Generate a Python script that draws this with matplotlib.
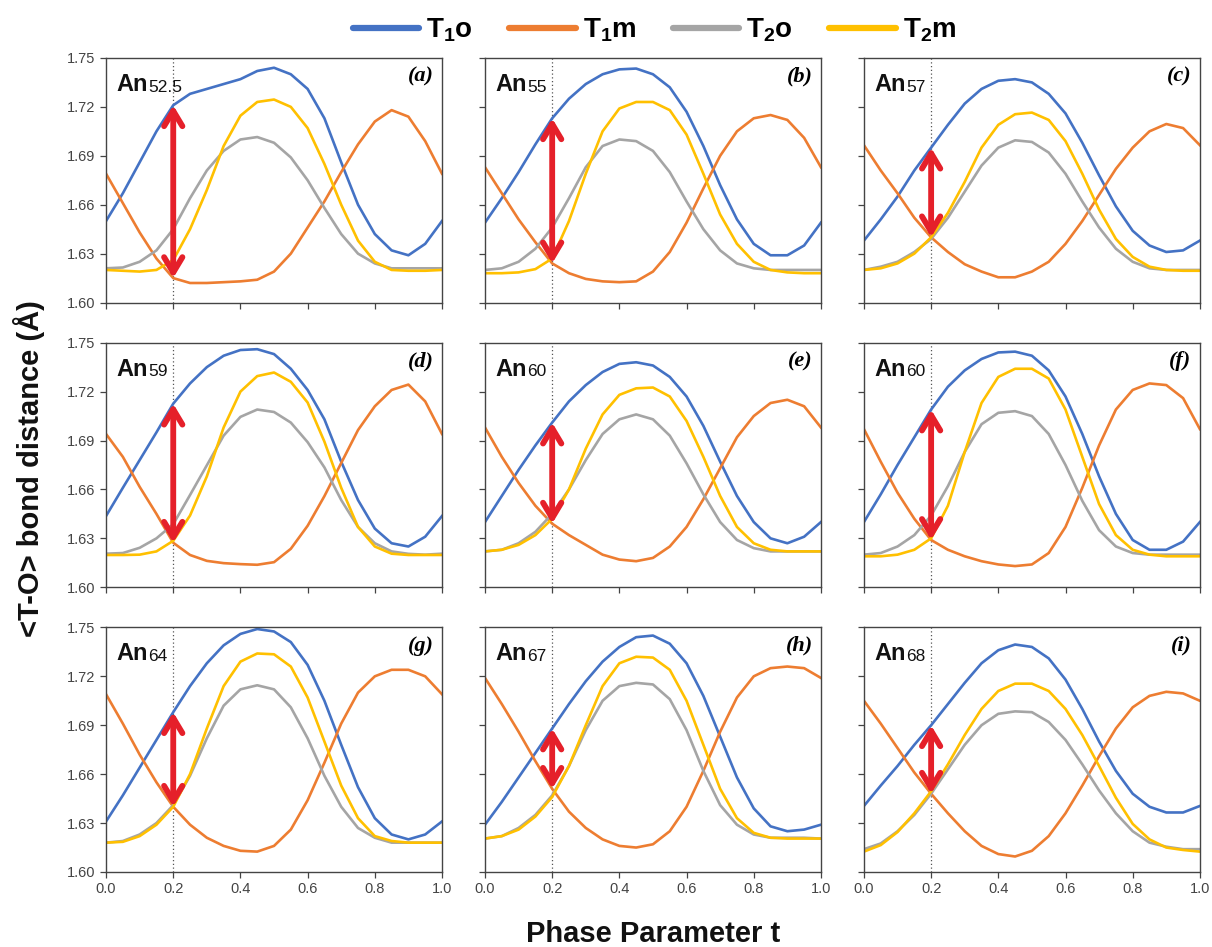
import numpy as np
import matplotlib
matplotlib.use('Agg')
import matplotlib.pyplot as plt
from matplotlib.lines import Line2D

plt.rcParams['font.family'] = ['Liberation Sans', 'DejaVu Sans']
plt.rcParams['mathtext.fontset'] = 'custom'
plt.rcParams['mathtext.rm'] = 'Liberation Sans'
plt.rcParams['mathtext.bf'] = 'Liberation Sans:bold'

# phase parameter t
t = np.round(np.arange(0, 1.0001, 0.05), 2)

series_names = ['T$_\\mathbf{1}$o', 'T$_\\mathbf{1}$m', 'T$_\\mathbf{2}$o', 'T$_\\mathbf{2}$m']
series_colors = ['#4472C4', '#ED7D31', '#A5A5A5', '#FFC000']

panel_letters = ['a', 'b', 'c', 'd', 'e', 'f', 'g', 'h', 'i']
sample_an = ['52.5', '55', '57', '59', '60', '60', '64', '67', '68']

# <T-O> bond distances, one list per site, per panel
T1o = [
    [1.650, 1.667, 1.686, 1.705, 1.721, 1.728, 1.731, 1.734, 1.737, 1.742, 1.744, 1.740, 1.731, 1.713, 1.686, 1.660, 1.642, 1.632, 1.629, 1.636, 1.650],
    [1.649, 1.664, 1.680, 1.697, 1.713, 1.725, 1.734, 1.740, 1.743, 1.7435, 1.740, 1.732, 1.717, 1.696, 1.672, 1.651, 1.636, 1.629, 1.629, 1.635, 1.649],
    [1.638, 1.651, 1.665, 1.681, 1.695, 1.709, 1.722, 1.731, 1.736, 1.737, 1.735, 1.728, 1.716, 1.698, 1.678, 1.659, 1.644, 1.635, 1.631, 1.632, 1.638],
    [1.6437, 1.661, 1.678, 1.695, 1.7126, 1.725, 1.735, 1.742, 1.7455, 1.746, 1.743, 1.734, 1.721, 1.703, 1.677, 1.6535, 1.636, 1.627, 1.625, 1.631, 1.6437],
    [1.640, 1.656, 1.672, 1.687, 1.701, 1.714, 1.724, 1.732, 1.737, 1.738, 1.736, 1.729, 1.717, 1.699, 1.677, 1.656, 1.640, 1.630, 1.627, 1.631, 1.640],
    [1.640, 1.657, 1.675, 1.692, 1.709, 1.723, 1.733, 1.740, 1.744, 1.7445, 1.742, 1.733, 1.717, 1.694, 1.668, 1.645, 1.629, 1.623, 1.623, 1.628, 1.640],
    [1.631, 1.647, 1.664, 1.681, 1.698, 1.714, 1.728, 1.739, 1.746, 1.749, 1.7475, 1.741, 1.727, 1.705, 1.678, 1.652, 1.633, 1.623, 1.620, 1.623, 1.631],
    [1.629, 1.643, 1.658, 1.673, 1.688, 1.703, 1.717, 1.729, 1.738, 1.744, 1.745, 1.740, 1.728, 1.708, 1.683, 1.658, 1.639, 1.628, 1.625, 1.626, 1.629],
    [1.6405, 1.653, 1.665, 1.678, 1.690, 1.703, 1.716, 1.728, 1.736, 1.7395, 1.738, 1.731, 1.718, 1.700, 1.680, 1.662, 1.648, 1.640, 1.6365, 1.6365, 1.6405],
]
T1m = [
    [1.679, 1.661, 1.643, 1.627, 1.615, 1.612, 1.612, 1.6125, 1.613, 1.614, 1.619, 1.630, 1.646, 1.662, 1.680, 1.697, 1.711, 1.718, 1.714, 1.699, 1.679],
    [1.683, 1.667, 1.651, 1.637, 1.624, 1.618, 1.6145, 1.613, 1.6125, 1.613, 1.619, 1.631, 1.649, 1.670, 1.690, 1.705, 1.713, 1.715, 1.712, 1.701, 1.683],
    [1.6965, 1.681, 1.667, 1.652, 1.640, 1.631, 1.6235, 1.619, 1.6155, 1.6155, 1.619, 1.625, 1.636, 1.650, 1.666, 1.682, 1.695, 1.705, 1.7095, 1.707, 1.6965],
    [1.694, 1.680, 1.6616, 1.645, 1.6273, 1.6198, 1.6162, 1.6148, 1.6142, 1.6138, 1.6154, 1.6236, 1.6377, 1.6559, 1.6762, 1.6964, 1.711, 1.721, 1.7243, 1.714, 1.694],
    [1.698, 1.680, 1.664, 1.650, 1.639, 1.632, 1.626, 1.620, 1.617, 1.616, 1.618, 1.625, 1.637, 1.654, 1.673, 1.692, 1.705, 1.713, 1.715, 1.711, 1.698],
    [1.697, 1.677, 1.658, 1.642, 1.629, 1.623, 1.619, 1.616, 1.614, 1.613, 1.614, 1.621, 1.637, 1.661, 1.687, 1.709, 1.721, 1.725, 1.724, 1.716, 1.697],
    [1.709, 1.691, 1.672, 1.655, 1.640, 1.629, 1.621, 1.616, 1.613, 1.6125, 1.616, 1.626, 1.644, 1.667, 1.691, 1.710, 1.720, 1.724, 1.724, 1.720, 1.709],
    [1.719, 1.703, 1.686, 1.668, 1.651, 1.637, 1.627, 1.620, 1.616, 1.615, 1.617, 1.625, 1.640, 1.662, 1.686, 1.707, 1.720, 1.725, 1.726, 1.725, 1.719],
    [1.705, 1.691, 1.676, 1.661, 1.648, 1.636, 1.625, 1.616, 1.611, 1.6095, 1.613, 1.622, 1.636, 1.653, 1.671, 1.688, 1.701, 1.708, 1.7105, 1.7095, 1.705],
]
T2o = [
    [1.621, 1.6215, 1.625, 1.632, 1.645, 1.664, 1.681, 1.693, 1.700, 1.7015, 1.698, 1.689, 1.675, 1.658, 1.642, 1.630, 1.624, 1.621, 1.621, 1.621, 1.621],
    [1.620, 1.621, 1.625, 1.633, 1.646, 1.664, 1.683, 1.696, 1.700, 1.699, 1.693, 1.680, 1.662, 1.645, 1.632, 1.624, 1.621, 1.620, 1.620, 1.620, 1.620],
    [1.620, 1.622, 1.625, 1.631, 1.639, 1.652, 1.668, 1.684, 1.695, 1.6995, 1.6985, 1.692, 1.679, 1.662, 1.646, 1.633, 1.625, 1.621, 1.620, 1.620, 1.620],
    [1.6206, 1.621, 1.6242, 1.630, 1.6387, 1.6566, 1.6748, 1.693, 1.7045, 1.709, 1.7075, 1.701, 1.689, 1.6735, 1.6535, 1.637, 1.627, 1.622, 1.6205, 1.620, 1.6206],
    [1.622, 1.623, 1.627, 1.634, 1.645, 1.660, 1.678, 1.694, 1.703, 1.706, 1.703, 1.693, 1.676, 1.657, 1.640, 1.629, 1.624, 1.622, 1.622, 1.622, 1.622],
    [1.620, 1.621, 1.625, 1.632, 1.644, 1.662, 1.683, 1.700, 1.707, 1.708, 1.705, 1.694, 1.675, 1.653, 1.635, 1.625, 1.621, 1.620, 1.620, 1.620, 1.620],
    [1.618, 1.619, 1.623, 1.630, 1.641, 1.659, 1.682, 1.702, 1.712, 1.7145, 1.712, 1.701, 1.682, 1.659, 1.640, 1.627, 1.621, 1.618, 1.618, 1.618, 1.618],
    [1.6205, 1.622, 1.627, 1.635, 1.647, 1.665, 1.687, 1.705, 1.714, 1.716, 1.715, 1.706, 1.687, 1.662, 1.641, 1.629, 1.623, 1.621, 1.621, 1.621, 1.6205],
    [1.614, 1.6175, 1.625, 1.635, 1.648, 1.663, 1.678, 1.690, 1.697, 1.6985, 1.698, 1.692, 1.681, 1.666, 1.650, 1.636, 1.625, 1.618, 1.6155, 1.614, 1.614],
]
T2m = [
    [1.620, 1.6195, 1.619, 1.620, 1.626, 1.645, 1.669, 1.696, 1.7146, 1.723, 1.7245, 1.720, 1.707, 1.685, 1.660, 1.638, 1.625, 1.620, 1.6195, 1.6195, 1.620],
    [1.618, 1.618, 1.6185, 1.6205, 1.627, 1.650, 1.679, 1.705, 1.719, 1.723, 1.723, 1.718, 1.703, 1.679, 1.654, 1.636, 1.625, 1.620, 1.6185, 1.618, 1.618],
    [1.620, 1.621, 1.624, 1.630, 1.640, 1.655, 1.674, 1.695, 1.709, 1.7155, 1.7165, 1.712, 1.699, 1.679, 1.657, 1.639, 1.628, 1.622, 1.620, 1.6195, 1.6195],
    [1.6198, 1.6198, 1.620, 1.622, 1.6285, 1.644, 1.668, 1.698, 1.720, 1.7295, 1.7317, 1.726, 1.7133, 1.6893, 1.661, 1.637, 1.625, 1.6206, 1.6198, 1.6198, 1.6198],
    [1.622, 1.623, 1.626, 1.632, 1.642, 1.660, 1.685, 1.706, 1.718, 1.722, 1.7225, 1.717, 1.702, 1.680, 1.656, 1.637, 1.627, 1.623, 1.622, 1.622, 1.622],
    [1.619, 1.619, 1.620, 1.623, 1.630, 1.650, 1.683, 1.713, 1.729, 1.734, 1.734, 1.728, 1.709, 1.680, 1.651, 1.632, 1.623, 1.620, 1.619, 1.619, 1.619],
    [1.618, 1.6185, 1.622, 1.629, 1.640, 1.660, 1.688, 1.714, 1.729, 1.734, 1.7335, 1.726, 1.707, 1.680, 1.653, 1.633, 1.622, 1.619, 1.618, 1.618, 1.618],
    [1.6205, 1.622, 1.626, 1.634, 1.646, 1.665, 1.690, 1.714, 1.728, 1.732, 1.7315, 1.724, 1.705, 1.678, 1.651, 1.633, 1.624, 1.621, 1.6205, 1.6205, 1.6205],
    [1.6125, 1.6165, 1.6245, 1.636, 1.6495, 1.666, 1.684, 1.700, 1.711, 1.7155, 1.7155, 1.711, 1.700, 1.684, 1.665, 1.6455, 1.6295, 1.620, 1.615, 1.6135, 1.6125],
]

t_mark = 0.2
i_mark = int(np.argmin(np.abs(t - t_mark)))

fig, axes = plt.subplots(3, 3, figsize=(12.12, 9.47), dpi=100, sharex=True, sharey=True)
fig.subplots_adjust(left=0.0875, right=0.990, top=0.9388, bottom=0.0792, wspace=0.128, hspace=0.164)

for k, ax in enumerate(axes.flat):
    ax.axvline(t_mark, color='#555555', lw=0.9, ls=(0, (1, 2)), zorder=1)
    for data, c in zip([T1o, T1m, T2o, T2m], series_colors):
        ax.plot(t, data[k], color=c, lw=1.9, zorder=2, solid_joinstyle='round')
    ax.annotate('', xy=(t_mark, T1o[k][i_mark]), xytext=(t_mark, T1m[k][i_mark]),
                arrowprops=dict(arrowstyle='<->,head_length=0.55,head_width=0.33',
                                color='#E5202A', lw=4.2, shrinkA=0, shrinkB=0,
                                mutation_scale=20),
                zorder=3)
    an = ax.text(0.03, 0.865, 'An', transform=ax.transAxes, fontsize=17,
                 fontweight='bold', color='#111111', va='baseline')
    ax.annotate(sample_an[k], xy=(1, 0), xycoords=an, xytext=(0.5, 1),
                textcoords='offset points', fontsize=12.5, color='#111111',
                va='bottom', ha='left')
    ax.text(0.975, 0.965, '(' + panel_letters[k] + ')', transform=ax.transAxes,
            fontsize=16, fontweight='bold', fontstyle='italic',
            family='Liberation Serif', ha='right', va='top')
    ax.set_xlim(0, 1)
    ax.set_ylim(1.60, 1.75)
    ax.set_xticks(np.arange(0, 1.01, 0.2))
    ax.set_yticks([1.60, 1.63, 1.66, 1.69, 1.72, 1.75])
    ax.xaxis.set_major_formatter('{x:.1f}')
    ax.yaxis.set_major_formatter('{x:.2f}')
    ax.tick_params(direction='out', length=4, width=0.9, color='#444444',
                   labelsize=10.5, labelcolor='#444444')
    for s in ax.spines.values():
        s.set_color('#444444')
        s.set_linewidth(1.0)

handles = [Line2D([0], [0], color=c, lw=4.5, solid_capstyle='round') for c in series_colors]
fig.legend(handles, series_names, loc='center', bbox_to_anchor=(0.54, 0.968), ncol=4,
           frameon=False, prop={'weight': 'bold', 'size': 20}, handlelength=2.4,
           handletextpad=0.25, columnspacing=1.3)

fig.text(0.539, 0.014, 'Phase Parameter t', ha='center', va='center',
         fontsize=21, fontweight='bold', color='#111111')
fig.text(0.024, 0.505, '<T-O> bond distance (Å)', ha='center', va='center',
         rotation=90, fontsize=21, fontweight='bold', color='#111111')

fig.savefig('out.png', dpi=100)
